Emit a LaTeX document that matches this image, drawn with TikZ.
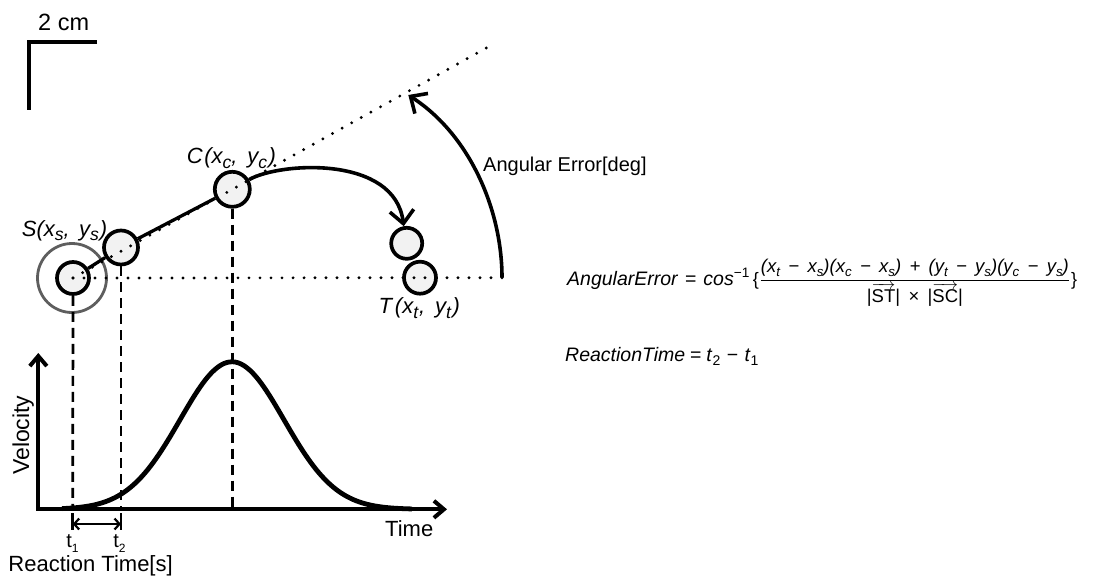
\documentclass[tikz,border=0pt]{standalone}
\usepackage{amsmath}
\usepackage{graphicx}
\usepackage{fontspec}
\setmainfont{Liberation Sans}
\usetikzlibrary{arrows.meta}
\definecolor{cfill}{HTML}{F2F2F2}
\definecolor{ringgray}{HTML}{5E5E5E}
\newcommand\fz[1]{\fontsize{#1}{#1}\selectfont}
\newcommand\vsub[3][0.8]{#2\raisebox{-0.22em}{\scalebox{#1}{#3}}}
\newcommand\bop[1]{\hspace{0.45em}#1\hspace{0.45em}}
\newcommand\sop[1]{\hspace{0.33em}#1\hspace{0.33em}}
\begin{document}
\begin{tikzpicture}[x=1pt,y=-1pt,
  circ/.style={circle, draw=black, fill=cfill, line width=3.7pt, inner sep=0pt, minimum size=#1},
  ringc/.style={circle, draw=ringgray, line width=2.8pt, inner sep=0pt, minimum size=#1},
  dotline/.style={line width=3.2pt, line cap=round, dash pattern=on 0pt off 11pt},
  dashline/.style={line width=2.7pt, dash pattern=on 10pt off 6pt},
  solidline/.style={line width=3.3pt},
  barb/.style={-{Straight Barb[length=13pt,width=24pt]}},
  axisline/.style={line width=4pt, {Straight Barb[length=10pt,width=17pt]}-{Straight Barb[length=10pt,width=17pt]}},
  lbl/.style={inner sep=0pt, font=\fz{22}},
  ital/.style={inner sep=0pt, font=\fz{22}\itshape}
]
\useasboundingbox (0,0) rectangle (1094,581);

% scale bar
\draw[line width=4pt] (97,41.7) -- (28.7,41.7) -- (28.7,110);
\node[lbl, anchor=base west, font=\fz{23.5}] (scale) at (38,30) {2 cm};

% circles
\node[ringc=69] (ring) at (72,278) {};
\node[circ=32] (S) at (73,278) {};
\node[circ=34] (P2) at (121,247.5) {};
\node[circ=35] (C) at (232.3,189.3) {};
\node[circ=31] (T1) at (406.7,243.3) {};
\node[circ=32] (T2) at (420,277.7) {};

% helper coordinates
\coordinate (hEnd) at (507,277.7);
\coordinate (dEnd) at (486.7,47.7);
\coordinate (angStart) at (502,277.7);
\coordinate (angEnd) at (408.3,95);
\coordinate (O) at (38.3,509.3);
\coordinate (yTop) at (38.3,353);
\coordinate (xEnd) at (447,509.3);
\coordinate (a1) at (72.7,509.3);
\coordinate (a2) at (121,509.3);
\coordinate (a3) at (232.3,509.3);

% dashed verticals
\draw[dashline] (S.south) -- (a1);
\draw[dashline] (P2.south) -- (a2);
\draw[dashline] (C.south) -- (a3);

% solid trajectory
\draw[solidline] (S) -- (P2);
\draw[solidline] (P2) -- (C);
\draw[line width=3.6pt, barb] (C.30) .. controls (280,162) and (395,155) .. (T1.100);

% dotted reference lines
\draw[dotline] (S.center) -- (hEnd);
\draw[dotline] (S.center) -- (dEnd);

% angular error arrow
\draw[line width=3.6pt, barb] (angStart) .. controls (502,210) and (470,135) .. (angEnd);
\node[inner sep=0pt, anchor=base west, font=\fz{20}] (aelab) at (483,171.7) {Angular Error[deg]};

% point labels
\node[ital, anchor=base west] (Slab) at (21.7,236) {S(\vsub{x}{s},\hspace{0.42em}\vsub{y}{s}\kern1pt)};
\node[ital, anchor=base west] (Clab) at (186.7,163.3) {C\kern1.5pt(\vsub{x}{c},\hspace{0.45em}\vsub{y}{c}\kern1.5pt)};
\node[ital, anchor=base west] (Tlab) at (378.3,313.3) {T\kern3pt(\vsub{x}{t}\kern1pt,\hspace{0.45em}\vsub{y}{t}\kern1.5pt)};

% velocity graph
\draw[line width=4.8pt] plot[domain=62:412, samples=120, smooth] (\x, {509.3 - 147.5*exp(-0.5*((\x-232)/52)^2)});
\draw[axisline] (yTop) -- (O) -- (xEnd);
\node[lbl, anchor=base west, rotate=90, font=\fz{23}] (vel) at (29,475) {Velocity};
\node[lbl, anchor=base west] (time) at (385,536.7) {Time};

% reaction time marker
\coordinate (r1) at (72.7,524);
\coordinate (r2) at (121,524);
\draw[line width=2.5pt] (72.7,513) -- (72.7,530);
\draw[line width=2.5pt] (121,513) -- (121,530);
\draw[line width=2.2pt, {Straight Barb[length=5pt,width=11pt]}-{Straight Barb[length=5pt,width=11pt]}] (r1) -- (r2);
\node[inner sep=0pt, anchor=base, font=\fz{20}] (t1) at (72.5,547.7) {\vsub[0.6]{t}{1}};
\node[inner sep=0pt, anchor=base, font=\fz{20}] (t2) at (119.5,547.7) {\vsub[0.6]{t}{2}};
\node[lbl, anchor=base west] (rt) at (8.3,571.7) {Reaction Time[s]};

% formulas
\node[inner sep=0pt, anchor=base west, font=\fz{19.5}] (AE) at (567,285)
 {\textit{AngularError}\hspace{0.35em}=\hspace{0.35em}\textit{cos}\textsuperscript{−1}\hspace{0.15em}\fz{18}\{\kern1pt$\genfrac{}{}{0.7pt}{0}{\mbox{\fz{18.5}\itshape (\vsub[0.72]{x}{t}\bop{−}\vsub[0.72]{x}{s})(\vsub[0.72]{x}{c}\bop{−}\vsub[0.72]{x}{s})\bop{+}(\vsub[0.72]{y}{t}\bop{−}\vsub[0.72]{y}{s})(\vsub[0.72]{y}{c}\bop{−}\vsub[0.72]{y}{s})\rule[-0.3em]{0pt}{0pt}}}{\mbox{\fz{18.5}\rule{0pt}{1.02em}|$\overrightarrow{\mbox{ST}}$|\bop{×}|$\overrightarrow{\mbox{SC}}$|}}$\kern1pt\}};
\node[inner sep=0pt, anchor=base west, font=\fz{19.5}] (RT) at (565,361.7)
 {\textit{ReactionTime}\hspace{0.25em}=\hspace{0.25em}\vsub[0.72]{\textit{t}}{2}\sop{−}\vsub[0.72]{\textit{t}}{1}};
\end{tikzpicture}
\end{document}
